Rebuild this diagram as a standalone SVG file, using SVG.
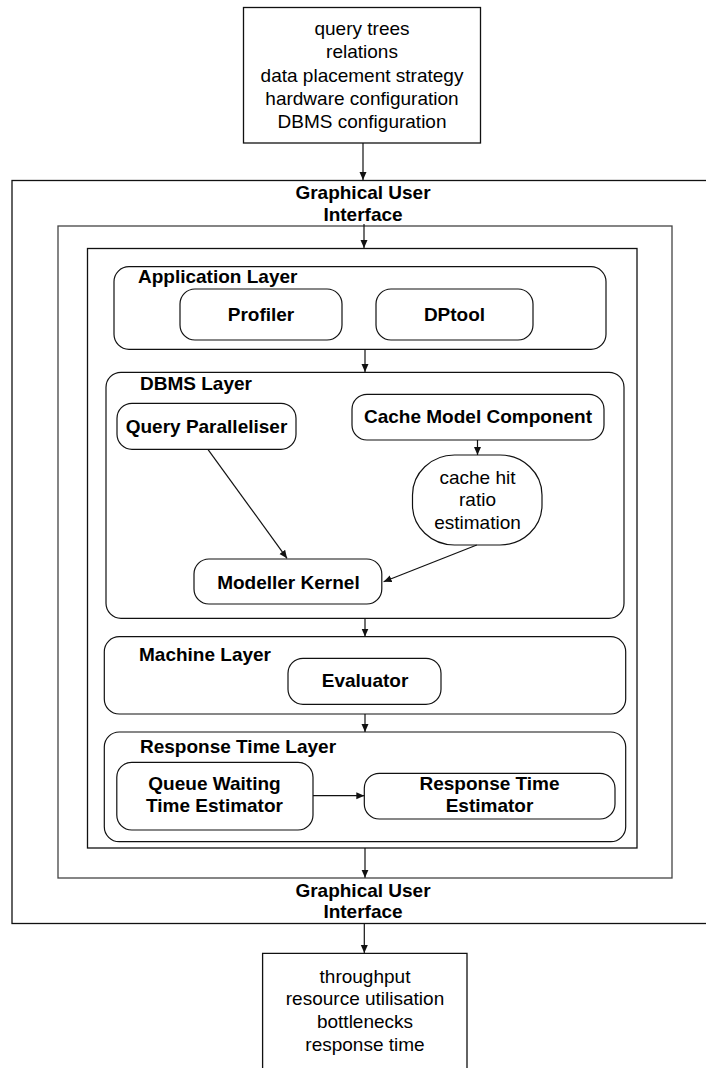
<svg xmlns="http://www.w3.org/2000/svg" width="706" height="1068" viewBox="0 0 706 1068">
<style>
text{font-family:"Liberation Sans",Arial,sans-serif;font-size:19px;fill:#000}
.b{font-weight:bold}
.c{text-anchor:middle}
.box{fill:none;stroke:#111;stroke-width:1.3}
.gray{fill:none;stroke:#444;stroke-width:1.3}
.rr{fill:none;stroke:#111;stroke-width:1.2}
.con{fill:none;stroke:#111;stroke-width:1.2}
</style>
<defs>
<marker id="ah" markerUnits="userSpaceOnUse" markerWidth="9" markerHeight="8" refX="8" refY="3.5" orient="auto">
<path d="M0,0 L8,3.5 L0,7 z" fill="#111"/>
</marker>
</defs>
<rect width="706" height="1068" fill="#fff"/>

<g id="inputs">
<rect class="box" x="243.5" y="7.5" width="237" height="135.5"/>
<text class="c" x="362" y="35">query trees</text>
<text class="c" x="362" y="58.3">relations</text>
<text class="c" x="362" y="81.6">data placement strategy</text>
<text class="c" x="362" y="104.8">hardware configuration</text>
<text class="c" x="362" y="128.2">DBMS configuration</text>
</g>

<g id="gui">
<rect class="box" x="12" y="180.5" width="720" height="743"/>
<text class="b c" x="363" y="199">Graphical User</text>
<text class="b c" x="363" y="221">Interface</text>
<text class="b c" x="363" y="896.5">Graphical User</text>
<text class="b c" x="363" y="917.5">Interface</text>
</g>

<g id="frame2">
<rect class="gray" x="58" y="226" width="614" height="652"/>
</g>

<g id="frame3">
<rect class="box" x="87.5" y="248.5" width="549.5" height="599.5"/>
</g>

<g id="application-layer">
<rect class="rr" x="114" y="266.7" width="492" height="82.6" rx="15"/>
<text class="b" x="138" y="283.3">Application Layer</text>
</g>
<g id="profiler">
<rect class="rr" x="180" y="289" width="162" height="51" rx="15"/>
<text class="b c" x="261" y="321">Profiler</text>
</g>
<g id="dptool">
<rect class="rr" x="376" y="289" width="157" height="51" rx="15"/>
<text class="b c" x="454.5" y="321">DPtool</text>
</g>

<g id="dbms-layer">
<rect class="rr" x="106" y="372.3" width="518" height="246" rx="15"/>
<text class="b" x="140" y="390">DBMS Layer</text>
</g>
<g id="query-paralleliser">
<rect class="rr" x="117" y="403.3" width="179" height="46" rx="15"/>
<text class="b c" x="206.5" y="433">Query Paralleliser</text>
</g>
<g id="cache-model-component">
<rect class="rr" x="352" y="394.3" width="252" height="45.7" rx="15"/>
<text class="b c" x="478" y="423">Cache Model Component</text>
</g>
<g id="cache-hit-ratio">
<rect class="rr" x="412.5" y="455" width="129.5" height="90" rx="42" ry="40"/>
<text class="c" x="477.5" y="483.5">cache hit</text>
<text class="c" x="477.5" y="506">ratio</text>
<text class="c" x="477.5" y="528.5">estimation</text>
</g>
<g id="modeller-kernel">
<rect class="rr" x="194" y="559" width="187.8" height="45" rx="15"/>
<text class="b c" x="288.4" y="588.5">Modeller Kernel</text>
</g>

<g id="machine-layer">
<rect class="rr" x="104.3" y="636.7" width="521.4" height="77.3" rx="15"/>
<text class="b" x="139" y="660.7">Machine Layer</text>
</g>
<g id="evaluator">
<rect class="rr" x="288" y="658.3" width="153" height="46" rx="15"/>
<text class="b c" x="365" y="687">Evaluator</text>
</g>

<g id="response-time-layer">
<rect class="rr" x="104.3" y="732" width="521.4" height="109.7" rx="15"/>
<text class="b" x="140" y="753.3">Response Time Layer</text>
</g>
<g id="queue-waiting">
<rect class="rr" x="116.8" y="762.3" width="196.2" height="67.7" rx="15"/>
<text class="b c" x="214.5" y="790">Queue Waiting</text>
<text class="b c" x="214.5" y="812.3">Time Estimator</text>
</g>
<g id="response-time-estimator">
<rect class="rr" x="364.3" y="773.3" width="250.7" height="45.7" rx="15"/>
<text class="b c" x="489.5" y="790">Response Time</text>
<text class="b c" x="489.5" y="812.3">Estimator</text>
</g>

<g id="outputs">
<path class="box" d="M262.6,1075 V953.3 H467 V1075"/>
<text class="c" x="365" y="982.7">throughput</text>
<text class="c" x="365" y="1005.2">resource utilisation</text>
<text class="c" x="365" y="1028.3">bottlenecks</text>
<text class="c" x="365" y="1051">response time</text>
</g>

<g id="connectors">
<line class="con" x1="363" y1="143" x2="363" y2="180" marker-end="url(#ah)"/>
<line class="con" x1="364" y1="224" x2="364" y2="248" marker-end="url(#ah)"/>
<line class="con" x1="365" y1="349.3" x2="365" y2="372" marker-end="url(#ah)"/>
<line class="con" x1="477.5" y1="440" x2="477.5" y2="455" marker-end="url(#ah)"/>
<line class="con" x1="207.9" y1="449.3" x2="287" y2="558.3" marker-end="url(#ah)"/>
<line class="con" x1="476.8" y1="545" x2="383.6" y2="581.7" marker-end="url(#ah)"/>
<line class="con" x1="365" y1="618.3" x2="365" y2="636.5" marker-end="url(#ah)"/>
<line class="con" x1="365" y1="714" x2="365" y2="732" marker-end="url(#ah)"/>
<line class="con" x1="313" y1="795.7" x2="364.3" y2="795.7" marker-end="url(#ah)"/>
<line class="con" x1="365" y1="848" x2="365" y2="877.7" marker-end="url(#ah)"/>
<line class="con" x1="364.3" y1="923.5" x2="364.3" y2="953" marker-end="url(#ah)"/>
</g>
</svg>
